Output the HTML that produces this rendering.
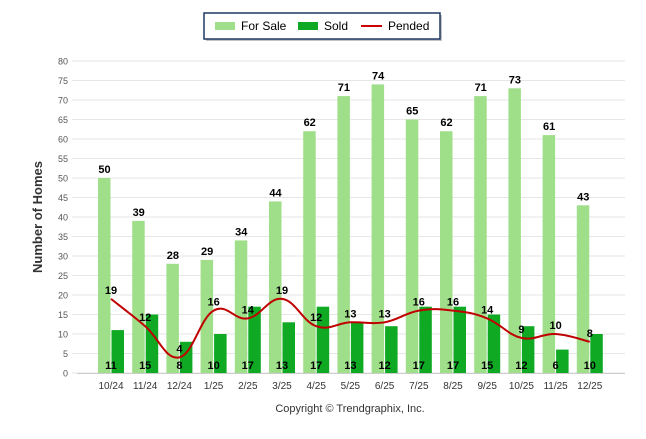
<!DOCTYPE html>
<html><head><meta charset="utf-8"><style>
body{margin:0;background:#fff;font-family:"Liberation Sans",Arial,sans-serif}
svg text{font-family:"Liberation Sans",Arial,sans-serif}
</style></head><body>
<svg id="c" width="646" height="434" viewBox="0 0 646 434">
<g>
<rect x="206" y="15" width="236" height="26" fill="#888" opacity="0.5"/>
<rect x="204" y="13" width="236" height="26" fill="#fff" stroke="#1f3864" stroke-width="1.5"/>
<g><rect x="215" y="22" width="20" height="8" fill="#a0df8a"/><text x="241" y="30" font-size="12">For Sale</text></g>
<g><rect x="298" y="22" width="20" height="8" fill="#0fa923"/><text x="324" y="30" font-size="12">Sold</text></g>
<g><line x1="361" y1="26" x2="382" y2="26" stroke="#c00" stroke-width="2"/><text x="388" y="30" font-size="12">Pended</text></g>
</g>
<text x="42" y="217" font-size="13" font-weight="bold" fill="#333" transform="rotate(-90 42 217)" text-anchor="middle">Number of Homes</text>
<text x="350" y="412" font-size="11" fill="#333" text-anchor="middle">Copyright © Trendgraphix, Inc.</text>
<g id="grid"></g><g id="bars"></g><g id="line"></g><g id="labels"></g>
</svg>
<script>
const categories=["10/24","11/24","12/24","1/25","2/25","3/25","4/25","5/25","6/25","7/25","8/25","9/25","10/25","11/25","12/25"];
const forSale=[50,39,28,29,34,44,62,71,74,65,62,71,73,61,43];
const sold=[11,15,8,10,17,13,17,13,12,17,17,15,12,6,10];
const pended=[19,12,4,16,14,19,12,13,13,16,16,14,9,10,8];
const yTicks=[0,5,10,15,20,25,30,35,40,45,50,55,60,65,70,75,80];
const NS="http://www.w3.org/2000/svg";
const y=v=>373-v*3.9;
const x=i=>111+i*34.2;
function mk(tag,attrs,parent,text){const e=document.createElementNS(NS,tag);for(const k in attrs)e.setAttribute(k,attrs[k]);if(text!==undefined)e.textContent=text;document.getElementById(parent).appendChild(e);return e;}
yTicks.forEach(t=>{
 const l=mk('line',{x1:72,x2:625,y1:y(t),y2:y(t),stroke:'#e6e6e6'},'grid');
 
 
 const tx=mk('text',{x:68,y:y(t)+3.5,'font-size':9,'text-anchor':'end',fill:'#555'},'grid',t);
 
 
});
mk('line',{x1:77,x2:625,y1:373.5,y2:373.5,stroke:'#ccc'},'grid');
categories.forEach((c,i)=>{
 const t=mk('text',{x:x(i),y:389,'font-size':10,'text-anchor':'middle',fill:'#333'},'grid',c);
 
 
 const b1=mk('rect',{x:x(i)-13,y:y(forSale[i]),width:12.5,height:forSale[i]*3.9,fill:'#a0df8a'},'bars');
 
 
 const b2=mk('rect',{x:x(i)+0.5,y:y(sold[i]),width:12.5,height:sold[i]*3.9,fill:'#0fa923'},'bars');
 
 
 const l1=mk('text',{x:x(i)-6.5,y:y(forSale[i])-5,'font-size':11,'font-weight':'bold','text-anchor':'middle'},'labels',forSale[i]);
 
 
 const l2=mk('text',{x:x(i),y:369,'font-size':11,'font-weight':'bold','text-anchor':'middle'},'labels',sold[i]);
 
 
 const l3=mk('text',{x:x(i),y:y(pended[i])-5,'font-size':11,'font-weight':'bold','text-anchor':'middle'},'labels',pended[i]);
 
 
});
const pts=pended.map((v,i)=>[x(i),y(v)]);
let d=`M${pts[0][0]},${pts[0][1]}`;
for(let i=0;i<pts.length-1;i++){
 const p0=pts[i-1]||pts[i],p1=pts[i],p2=pts[i+1],p3=pts[i+2]||p2;
 const k=0.2;
 d+=` C${p1[0]+(p2[0]-p0[0])*k},${p1[1]+(p2[1]-p0[1])*k} ${p2[0]-(p3[0]-p1[0])*k},${p2[1]-(p3[1]-p1[1])*k} ${p2[0]},${p2[1]}`;
}
const pl=mk('path',{d:d,fill:'none',stroke:'#c00000','stroke-width':2},'line');


</script>
</body></html>
